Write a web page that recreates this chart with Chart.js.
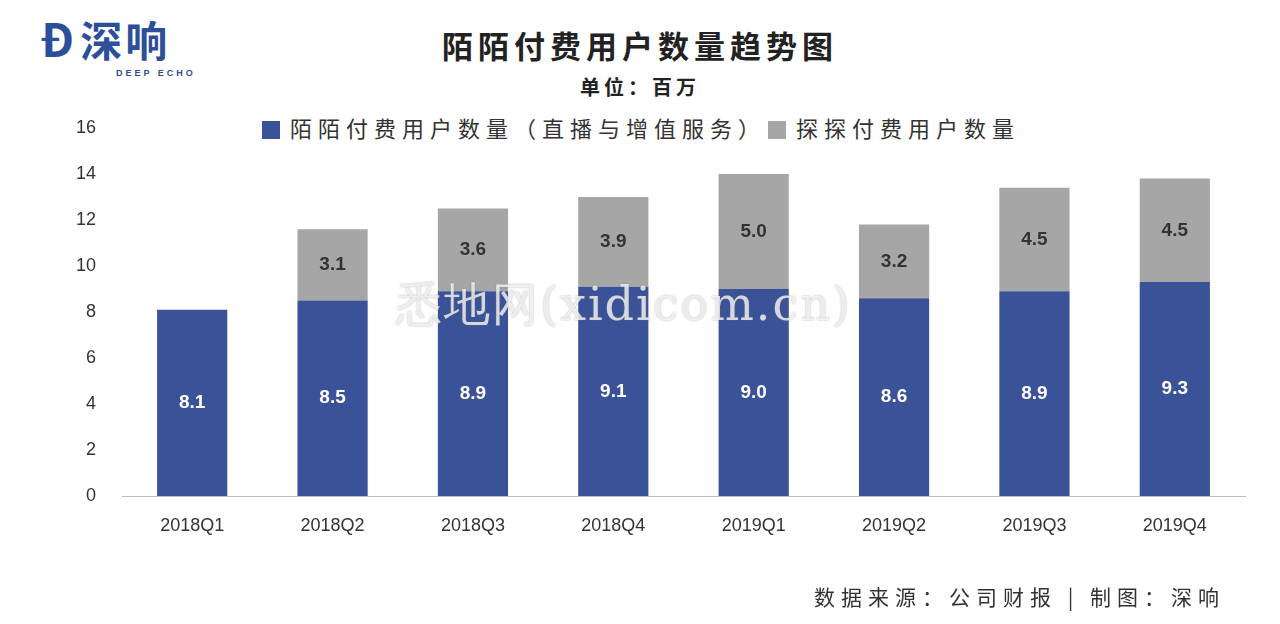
<!DOCTYPE html>
<html lang="zh">
<head>
<meta charset="UTF-8">
<script src="https://cdn.jsdelivr.net/npm/chart.js"></script>
<style>
  body { margin: 0; width: 1280px; height: 624px; background: #fff; position: relative; overflow: hidden; font-family: "Noto Sans CJK SC", sans-serif; }
  .t { position: absolute; white-space: nowrap; color: #222; }
  #chartBox { position: absolute; left: 0; top: 0; width: 1280px; height: 624px; }
  .sw { display: inline-block; width: 18px; height: 18px; vertical-align: -2px; margin-right: 10px; }
</style>
</head>
<body>
  <div class="t" style="left:40px;top:12px;font-size:46px;font-weight:bold;color:#2d4f9a;line-height:50px">Ð<span style="font-size:42px;letter-spacing:3px;margin-left:6px">深响</span></div>
  <div class="t" style="left:116px;top:68px;font-size:9px;font-weight:bold;color:#2d4f9a;letter-spacing:3px;font-family:Arial">DEEP ECHO</div>
  <div class="t" style="left:0;width:1280px;text-align:center;top:22px;font-size:31px;font-weight:bold;letter-spacing:5px">陌陌付费用户数量趋势图</div>
  <div class="t" style="left:0;width:1280px;text-align:center;top:72px;font-size:20px;font-weight:bold;letter-spacing:4px">单位：百万</div>
  <div class="t" style="left:262px;top:111px;font-size:22px;letter-spacing:6px;color:#333">
    <span class="sw" style="background:#3a5297"></span>陌陌付费用户数量（直播与增值服务）<span class="sw" style="background:#a6a6a6;margin-left:2px"></span>探探付费用户数量
  </div>
  <div id="chartBox"><canvas id="c" width="1280" height="624"></canvas></div>
  <div class="t" style="left:396px;top:274px;font-size:46px;letter-spacing:2px;font-family:'DejaVu Serif',serif;color:rgba(255,255,255,0.75);text-shadow:0 0 2px rgba(120,120,120,0.6)">悉地网(xidicom.cn)</div>
  <div class="t" style="left:814px;top:581px;font-size:21px;letter-spacing:6px;color:#333">数据来源：公司财报 | 制图：深响</div>

<script>
const quarters = ["2018Q1","2018Q2","2018Q3","2018Q4","2019Q1","2019Q2","2019Q3","2019Q4"];
const momoUsers = [8.1, 8.5, 8.9, 9.1, 9.0, 8.6, 8.9, 9.3];
const tantanUsers = [null, 3.1, 3.6, 3.9, 5.0, 3.2, 4.5, 4.5];
const yTicks = [0, 2, 4, 6, 8, 10, 12, 14, 16];

const barLabels = {
  id: "barLabels",
  afterDatasetsDraw(chart) {
    const ctx = chart.ctx;
    ctx.save();
    ctx.font = "bold 19px Arial";
    ctx.textAlign = "center";
    ctx.textBaseline = "middle";
    chart.data.datasets.forEach((ds, di) => {
      chart.getDatasetMeta(di).data.forEach((bar, i) => {
        const v = ds.data[i];
        if (v == null) return;
        ctx.fillStyle = di === 0 ? "#fff" : "#333";
        ctx.fillText(v.toFixed(1), bar.x, (bar.y + bar.base) / 2);
      });
    });
    ctx.restore();
  }
};

new Chart(document.getElementById("c"), {
  type: "bar",
  data: {
    labels: quarters,
    datasets: [
      { label: "陌陌付费用户数量（直播与增值服务）", data: momoUsers, backgroundColor: "#3a5297" },
      { label: "探探付费用户数量", data: tantanUsers, backgroundColor: "#a6a6a6" }
    ]
  },
  options: {
    responsive: false, animation: false,
    layout: { padding: { left: 60, right: 35, top: 128, bottom: 88 } },
    plugins: { legend: { display: false }, tooltip: { enabled: false } },
    datasets: { bar: { barPercentage: 0.5, categoryPercentage: 1 } },
    scales: {
      x: {
        stacked: true,
        grid: { display: false, drawTicks: false },
        border: { color: "#bbb" },
        ticks: { color: "#333", font: { size: 18, family: "Arial" }, padding: 19 },
        afterFit(s) { s.height = 40; }
      },
      y: {
        stacked: true, min: 0, max: 16,
        afterBuildTicks(s) { s.ticks = yTicks.map(v => ({ value: v })); },
        grid: { display: false },
        border: { display: false },
        ticks: { color: "#333", font: { size: 18, family: "Arial" }, padding: 18 },
        afterFit(s) { s.width = 62; }
      }
    }
  },
  plugins: [barLabels]
});
</script>
</body>
</html>
